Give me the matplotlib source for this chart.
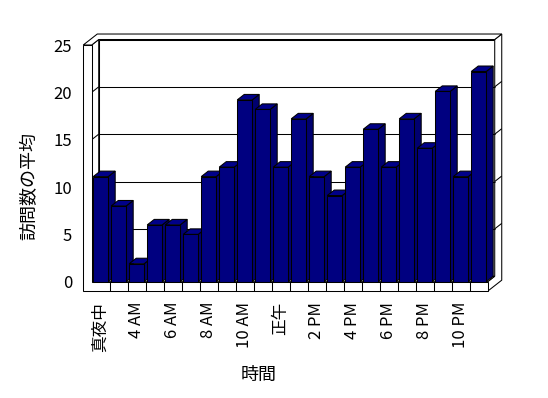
import matplotlib.pyplot as plt
from matplotlib.patches import Polygon

plt.rcParams['font.family'] = ['Noto Sans CJK JP', 'DejaVu Sans']

# average visits per hour (2 AM and 3 AM have no data)
hours = ['真夜中', '1 AM', '4 AM', '5 AM', '6 AM', '7 AM', '8 AM', '9 AM', '10 AM', '11 AM',
         '正午', '1 PM', '2 PM', '3 PM', '4 PM', '5 PM', '6 PM', '7 PM', '8 PM', '9 PM',
         '10 PM', '11 PM']
visits = [11.1, 8.0, 1.9, 6.0, 6.0, 5.0, 11.1, 12.1, 19.2, 18.2, 12.1, 17.2,
          11.1, 9.1, 12.1, 16.1, 12.1, 17.2, 14.1, 20.1, 11.1, 22.2]
yticks = [0, 5, 10, 15, 20, 25]

n = len(visits)
x0, x1 = -0.5, n - 0.5
ytop = 25
DX, DY = 0.39, 0.58      # one unit of depth
WALL = 0.47              # wall thickness (x)
FLOOR = 1.0              # floor thickness (y)
BW = 0.83
navy = '#000080'
lw = 0.75

fig = plt.figure(figsize=(5.48, 3.98), dpi=100)
ax = fig.add_axes([91.7 / 548, (398 - 281.7) / 398, 396 / 548, 236.7 / 398])
ax.set_xlim(x0, x1)
ax.set_ylim(0, ytop)
for s in ax.spines.values():
    s.set_visible(False)
ax.patch.set_visible(False)


def poly(pts, fc='white', z=1):
    ax.add_patch(Polygon(pts, closed=True, facecolor=fc, edgecolor='black',
                         linewidth=lw, zorder=z, clip_on=False, joinstyle='miter'))


def seg(xs, ys, z=1.5):
    ax.plot(xs, ys, color='black', linewidth=lw, zorder=z, clip_on=False,
            solid_capstyle='butt')


# back wall inner face
poly([(x0 + DX, DY), (x1 + DX, DY), (x1 + DX, ytop + DY), (x0 + DX, ytop + DY)], z=1)
# left wall inner face
poly([(x0, 0), (x0 + DX, DY), (x0 + DX, ytop + DY), (x0, ytop)], z=1)
# right end of back wall + floor
poly([(x1, -FLOOR), (x1 + 2 * DX, -FLOOR + 2 * DY), (x1 + 2 * DX, ytop + 2 * DY),
      (x1 + DX, ytop + DY), (x1 + DX, DY), (x1, 0)], z=1)
# top of walls
xl = x0 - WALL
poly([(xl, ytop), (x0, ytop), (x0 + DX, ytop + DY), (x1 + DX, ytop + DY),
      (x1 + 2 * DX, ytop + 2 * DY), (xl + 2 * DX, ytop + 2 * DY)], z=1)
# floor top
poly([(x0, 0), (x1, 0), (x1 + DX, DY), (x0 + DX, DY)], z=1)

for t in yticks[1:-1]:
    seg([x0 + DX, x1 + DX], [t + DY, t + DY])
    seg([xl, x0, x0 + DX], [t, t, t + DY])
    seg([x1 + DX, x1 + 2 * DX], [t + DY, t + 2 * DY])

# front face of left wall and floor
poly([(xl, -FLOOR), (x1, -FLOOR), (x1, 0), (x0, 0), (x0, ytop), (xl, ytop)], z=50)
for k in range(1, n):
    seg([x0 + k, x0 + k], [-FLOOR, 0], z=51)

# bars
xs = list(range(n))
bars = ax.bar(xs, visits, width=BW, color=navy, edgecolor='black', linewidth=lw,
              clip_on=False)
for i, (b, v) in enumerate(zip(bars, visits)):
    z = 2 + i * 0.1
    r = i + BW / 2
    l = i - BW / 2
    poly([(r, 0), (r + DX, DY), (r + DX, v + DY), (r, v)], fc='#000070', z=z)
    poly([(l, v), (r, v), (r + DX, v + DY), (l + DX, v + DY)], fc='#000088', z=z)
    b.set_zorder(z + 0.05)

ax.set_xticks(xs[::2])
ax.set_xticklabels(hours[::2], rotation=90, fontsize=12)
ax.set_yticks(yticks)
ax.set_yticklabels([str(t) for t in yticks], fontsize=12)
ax.tick_params(axis='x', length=0, pad=14.4)
ax.tick_params(axis='y', length=0, pad=14)

fig.text(29 / 548, 1 - 186 / 398, '訪問数の平均', rotation=90, ha='center', va='center',
         fontsize=13)
fig.text(259 / 548, 1 - 375 / 398, '時間', ha='center', va='center', fontsize=13)

fig.savefig('out.png', dpi=100)
